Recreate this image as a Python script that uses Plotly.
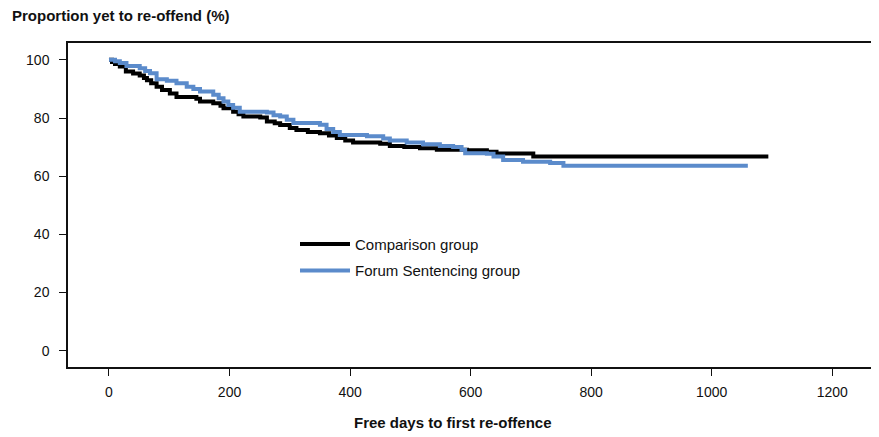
import plotly.graph_objects as go

# Kaplan-Meier step data (days, % yet to re-offend)
comp_days = [0, 5, 10, 18, 28, 40, 51, 58, 63, 70, 79, 88, 101, 112, 145, 151, 173, 185, 190,
             206, 215, 223, 251, 262, 275, 284, 300, 311, 330, 350, 365, 378, 392, 405, 450,
             466, 490, 516, 544, 594, 627, 643, 704, 1094]
comp_pct = [100, 99.3, 98.6, 97.7, 96.0, 95.3, 94.6, 93.8, 93.0, 92.0, 90.8, 89.6, 88.4, 87.2,
            86.6, 85.7, 85.1, 84.2, 83.4, 82.2, 81.3, 80.5, 80.2, 78.8, 78.2, 77.6, 76.6, 75.9,
            75.2, 74.8, 74.0, 73.1, 72.3, 71.6, 71.2, 70.4, 70.0, 69.6, 69.1, 68.9, 68.4, 67.8,
            66.8, 66.8]

forum_days = [0, 10, 18, 29, 51, 60, 68, 79, 96, 112, 129, 140, 151, 173, 182, 190, 198, 206,
              217, 262, 273, 284, 295, 306, 350, 361, 372, 383, 428, 455, 466, 494, 521, 549,
              571, 585, 591, 627, 638, 654, 687, 732, 754, 1060]
forum_pct = [100, 99.5, 98.9, 97.9, 97.1, 96.2, 95.4, 93.3, 92.8, 92.0, 90.8, 90.0, 89.1, 88.0,
             86.8, 85.7, 84.5, 83.5, 82.2, 81.9, 81.0, 80.5, 79.4, 78.3, 77.7, 76.2, 75.2, 74.2,
             73.7, 73.0, 72.3, 71.6, 71.0, 70.4, 70.0, 69.1, 67.9, 67.7, 66.8, 65.6, 65.0, 64.5,
             63.6, 63.6]

x_ticks = [0, 200, 400, 600, 800, 1000, 1200]
y_ticks = [0, 20, 40, 60, 80, 100]

FONT = "Liberation Sans, Arial, sans-serif"

# page body has an 8px default margin; figure is sized/margined to compensate
OFF = 8
W, H = 879 - OFF, 437 - OFF
ML, MT, MR = 68 - OFF, 43 - OFF, 7
MB = H - (367 - OFF)
PW = W - ML - MR
PH = H - MT - MB

fig = go.Figure()
fig.add_trace(go.Scatter(x=comp_days, y=comp_pct, mode="lines", line_shape="hv",
                         name="Comparison group", legendgroup="a",
                         line=dict(color="#000000", width=4)))
fig.add_trace(go.Scatter(x=forum_days, y=forum_pct, mode="lines", line_shape="hv",
                         name="Forum Sentencing group", legendgroup="b",
                         line=dict(color="#5B8BCB", width=4)))

fig.update_layout(
    width=W, height=H,
    margin=dict(l=ML, r=MR, t=MT, b=MB, autoexpand=False),
    paper_bgcolor="white", plot_bgcolor="white",
    font=dict(family=FONT, size=14, color="#111111"),
    showlegend=True,
    legend=dict(x=(295 - 68) / PW, y=0.43, xanchor="left", yanchor="top",
                bgcolor="rgba(0,0,0,0)", font=dict(size=15, color="#111111"),
                tracegroupgap=4, itemwidth=50),
    xaxis=dict(range=[-68, 1266], tickvals=x_ticks, ticktext=[str(v) for v in x_ticks],
               showgrid=False, zeroline=False, showline=True, linecolor="#111111",
               linewidth=1.5, mirror=True, ticks="outside", ticklen=7, tickwidth=1.2,
               tickcolor="#111111", ticklabelstandoff=4, automargin=False),
    yaxis=dict(range=[-5.6, 105.8], tickvals=y_ticks, ticktext=[str(v) for v in y_ticks],
               showgrid=False, zeroline=False, showline=True, linecolor="#111111",
               linewidth=1.5, mirror=True, ticks="outside", ticklen=7, tickwidth=1.2,
               tickcolor="#111111", ticklabelstandoff=7, automargin=False),
    annotations=[
        dict(text="<b>Proportion yet to re-offend (%)</b>", xref="paper", yref="paper",
             x=-(68 - 10) / PW, y=1 + (43 - 15) / PH, xanchor="left",
             yanchor="middle", showarrow=False,
             font=dict(size=15, family=FONT, color="#111111")),
        dict(text="<b>Free days to first re-offence</b>", xref="paper", yref="paper",
             x=(453 - 68) / PW, y=-(423 - 367) / PH, xanchor="center",
             yanchor="middle", showarrow=False,
             font=dict(size=15, family=FONT, color="#111111")),
    ],
)

fig.write_html("out.html")
